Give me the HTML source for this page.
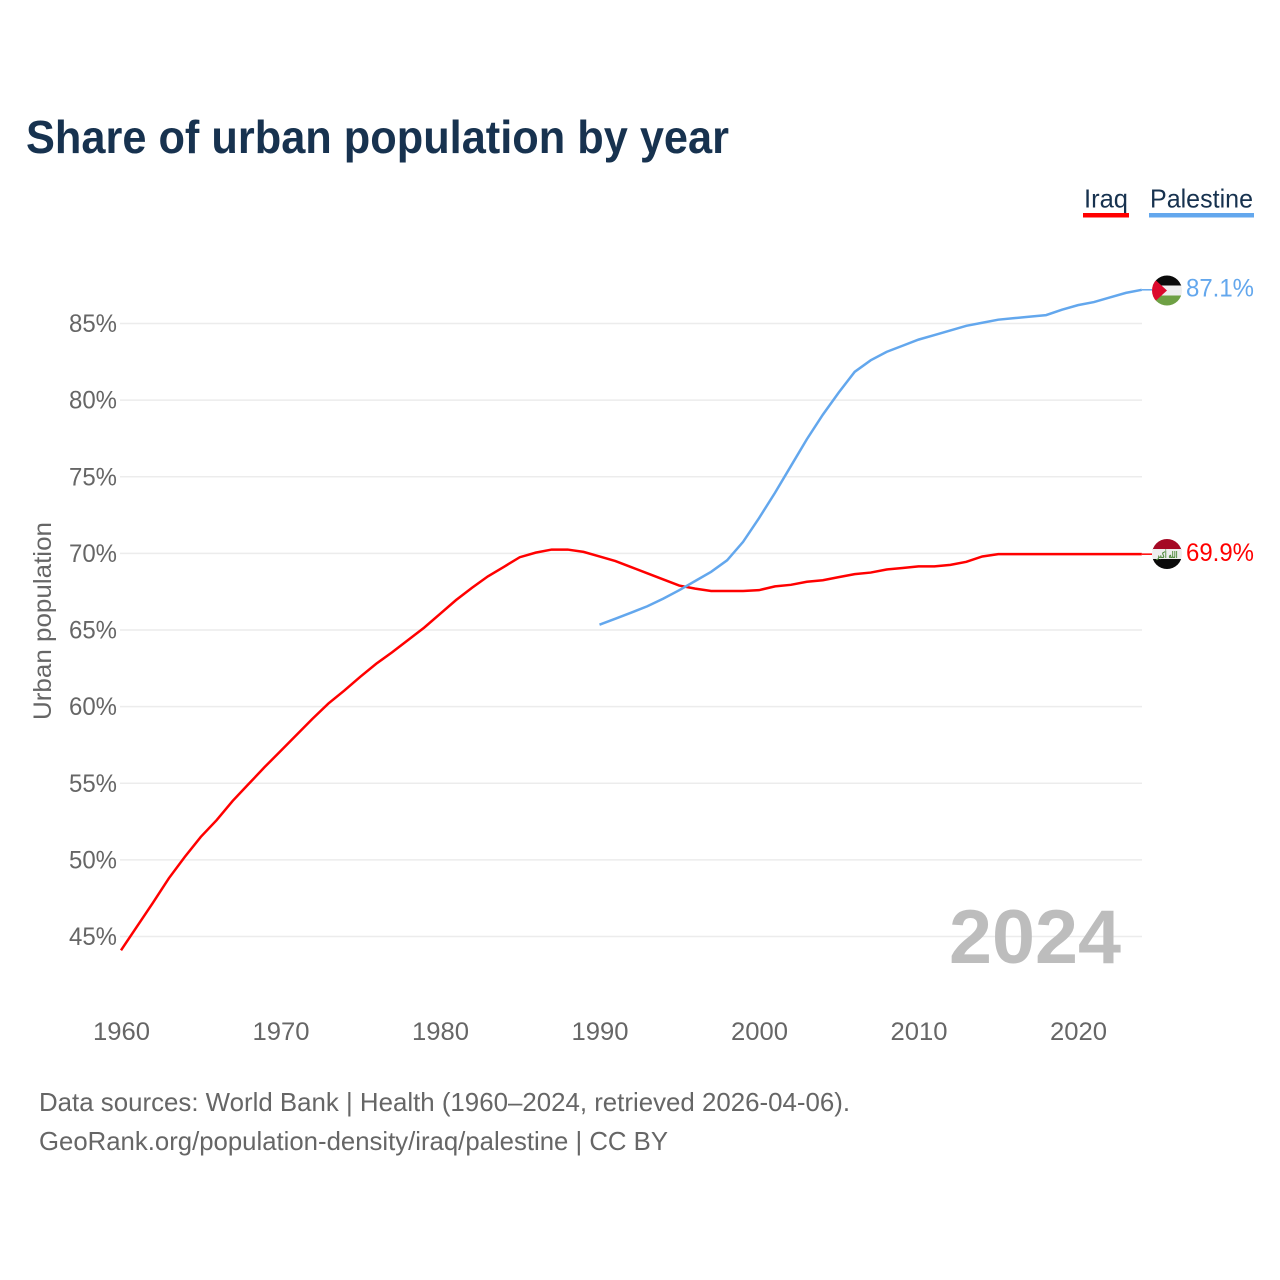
<!DOCTYPE html>
<html lang="en">
<head>
<meta charset="utf-8">
<title>Share of urban population by year</title>
<style>
html,body{margin:0;padding:0;background:#fff;}
svg{display:block;font-family:"Liberation Sans",sans-serif;}
</style>
</head>
<body>
<svg id="chart" width="1280" height="1280" viewBox="0 0 1280 1280" xmlns="http://www.w3.org/2000/svg">
  <defs>
    <clipPath id="flag-clip-pal"><circle cx="1167" cy="290.500" r="15"/></clipPath>
    <clipPath id="flag-clip-irq"><circle cx="1167" cy="554" r="15"/></clipPath>
  </defs>
  <rect x="0" y="0" width="1280" height="1280" fill="#ffffff"/>
  <text x="26" y="153" font-size="46" font-weight="700" fill="#17324f" textLength="703" lengthAdjust="spacingAndGlyphs">Share of urban population by year</text>

  <g>
    <g>
      <text x="1084" y="207.500" font-size="26" fill="#17324f" textLength="44" lengthAdjust="spacingAndGlyphs">Iraq</text>
      <rect x="1083" y="213" width="46" height="4.500" fill="#ff0000"/>
    </g>
    <g>
      <text x="1150" y="207.500" font-size="26" fill="#17324f" textLength="103" lengthAdjust="spacingAndGlyphs">Palestine</text>
      <rect x="1149" y="213" width="105" height="4.500" fill="#63a7ed"/>
    </g>
  </g>

  <g id="grid"></g>
  <g id="yticks"></g>
  <g id="xticks"></g>
  <text transform="translate(51,621) rotate(-90)" text-anchor="middle" font-size="25" fill="#666666" textLength="198" lengthAdjust="spacingAndGlyphs">Urban population</text>
  <text x="949" y="963" font-size="76" font-weight="700" fill="#bdbdbd" textLength="172" lengthAdjust="spacingAndGlyphs">2024</text>

  <g id="series"></g>

  <g clip-path="url(#flag-clip-pal)">
    <rect x="1152" y="275" width="30" height="11" fill="#0a0a0a"/>
    <rect x="1152" y="285.500" width="30" height="10.500" fill="#eeeeee"/>
    <rect x="1152" y="295.500" width="30" height="11" fill="#6ea044"/>
    <polygon points="1150,275 1167,290.500 1150,306" fill="#dc0a2d"/>
  </g>
  <text id="label-palestine" x="1186" y="296.500" font-size="25" fill="#63a7ed" textLength="68" lengthAdjust="spacingAndGlyphs"></text>

  <g clip-path="url(#flag-clip-irq)">
    <rect x="1152" y="539" width="30" height="11" fill="#a50a25"/>
    <rect x="1152" y="549" width="30" height="10.500" fill="#eeeeee"/>
    <rect x="1152" y="559" width="30" height="11" fill="#0a0a0a"/>
    <text x="1167" y="558" text-anchor="middle" font-size="9" font-weight="700" fill="#4f8a3c" textLength="21" lengthAdjust="spacingAndGlyphs" font-family="'DejaVu Sans',sans-serif">الله أكبر</text>
  </g>
  <text id="label-iraq" x="1186" y="561" font-size="25" fill="#ff0000" textLength="68" lengthAdjust="spacingAndGlyphs"></text>

  <g>
    <text x="39" y="1111" font-size="26" fill="#666666" textLength="811" lengthAdjust="spacingAndGlyphs">Data sources: World Bank | Health (1960–2024, retrieved 2026-04-06).</text>
    <text x="39" y="1150" font-size="26" fill="#666666" textLength="629" lengthAdjust="spacingAndGlyphs">GeoRank.org/population-density/iraq/palestine | CC BY</text>
  </g>
</svg>
<script>
const yTicks = [45, 50, 55, 60, 65, 70, 75, 80, 85];
const xTicks = [1960, 1970, 1980, 1990, 2000, 2010, 2020];
const iraqStartYear = 1960;
const iraqValues = [44.1, 45.65, 47.2, 48.8, 50.2, 51.5, 52.6, 53.85, 54.95, 56.05,
  57.1, 58.15, 59.2, 60.2, 61.05, 61.95, 62.8, 63.55, 64.35, 65.15,
  66.05, 66.95, 67.75, 68.5, 69.12, 69.75, 70.05, 70.25, 70.25, 70.1,
  69.8, 69.5, 69.1, 68.7, 68.3, 67.9, 67.7, 67.55, 67.55, 67.55,
  67.6, 67.85, 67.95, 68.15, 68.25, 68.45, 68.65, 68.75, 68.95, 69.05,
  69.15, 69.15, 69.25, 69.45, 69.8, 69.95, 69.95, 69.95, 69.95, 69.95,
  69.95, 69.95, 69.95, 69.95, 69.95];
const palestineStartYear = 1990;
const palestineValues = [65.35, 65.74, 66.14, 66.55, 67.05, 67.6, 68.2, 68.8, 69.55, 70.75,
  72.3, 73.95, 75.7, 77.45, 79.05, 80.5, 81.85, 82.6, 83.15, 83.55,
  83.95, 84.25, 84.55, 84.85, 85.05, 85.25, 85.35, 85.45, 85.55, 85.9,
  86.2, 86.4, 86.7, 87.0, 87.2];
const iraqLabel = "69.9%";
const palestineLabel = "87.1%";

const NS = "http://www.w3.org/2000/svg";
function xScale(year) { return 121 + (year - 1960) * 15.95; }
function yScale(v) { return 553.4 - (v - 70) * 15.325; }

const grid = document.getElementById("grid");
const yGroup = document.getElementById("yticks");
const xGroup = document.getElementById("xticks");

yTicks.forEach(function (t) {
  const line = document.createElementNS(NS, "line");
  
  
  line.setAttribute("x1", 120);
  line.setAttribute("x2", 1142);
  line.setAttribute("y1", yScale(t));
  line.setAttribute("y2", yScale(t));
  line.setAttribute("stroke", "#ececec");
  line.setAttribute("stroke-width", "1.500");
  grid.appendChild(line);

  const label = document.createElementNS(NS, "text");
  
  
  label.setAttribute("x", 69);
  label.setAttribute("y", yScale(t) + 8.500);
  label.setAttribute("font-size", "25");
  label.setAttribute("fill", "#666666");
  label.setAttribute("textLength", "48");
  label.setAttribute("lengthAdjust", "spacingAndGlyphs");
  label.textContent = t + "%";
  yGroup.appendChild(label);
});

xTicks.forEach(function (t) {
  const label = document.createElementNS(NS, "text");
  
  
  label.setAttribute("x", xScale(t) - 28);
  label.setAttribute("y", 1040);
  label.setAttribute("font-size", "25");
  label.setAttribute("fill", "#666666");
  label.setAttribute("textLength", "57");
  label.setAttribute("lengthAdjust", "spacingAndGlyphs");
  label.textContent = t;
  xGroup.appendChild(label);
});

function pathFor(values, startYear) {
  return values.map(function (v, i) {
    return (i ? "L" : "M") + xScale(startYear + i).toFixed(2) + " " + yScale(v).toFixed(2);
  }).join(" ");
}

const seriesGroup = document.getElementById("series");

const iraqLine = document.createElementNS(NS, "path");


iraqLine.setAttribute("d", pathFor(iraqValues, iraqStartYear));
iraqLine.setAttribute("fill", "none");
iraqLine.setAttribute("stroke", "#ff0000");
iraqLine.setAttribute("stroke-width", "2.500");
seriesGroup.appendChild(iraqLine);

const palestineLine = document.createElementNS(NS, "path");


palestineLine.setAttribute("d", pathFor(palestineValues, palestineStartYear));
palestineLine.setAttribute("fill", "none");
palestineLine.setAttribute("stroke", "#63a7ed");
palestineLine.setAttribute("stroke-width", "2.500");
seriesGroup.appendChild(palestineLine);

const iraqLast = iraqValues[iraqValues.length - 1];
const iraqConnector = document.createElementNS(NS, "line");


iraqConnector.setAttribute("x1", xScale(2024));
iraqConnector.setAttribute("x2", 1152);
iraqConnector.setAttribute("y1", yScale(iraqLast));
iraqConnector.setAttribute("y2", yScale(iraqLast));
iraqConnector.setAttribute("stroke", "#ff0000");
iraqConnector.setAttribute("stroke-width", "1.500");
seriesGroup.appendChild(iraqConnector);

const palestineLast = palestineValues[palestineValues.length - 1];
const palestineConnector = document.createElementNS(NS, "line");


palestineConnector.setAttribute("x1", xScale(2024));
palestineConnector.setAttribute("x2", 1152);
palestineConnector.setAttribute("y1", yScale(palestineLast));
palestineConnector.setAttribute("y2", yScale(palestineLast));
palestineConnector.setAttribute("stroke", "#63a7ed");
palestineConnector.setAttribute("stroke-width", "1.500");
seriesGroup.appendChild(palestineConnector);

document.getElementById("label-iraq").textContent = iraqLabel;
document.getElementById("label-palestine").textContent = palestineLabel;
</script>
</body>
</html>
